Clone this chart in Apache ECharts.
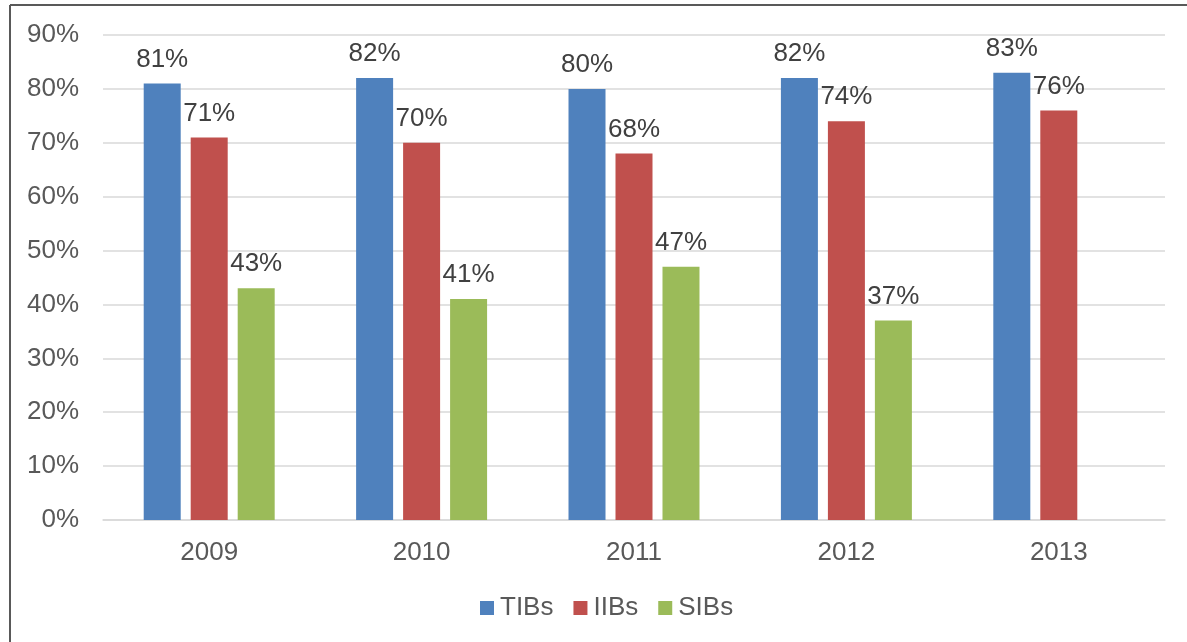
<!DOCTYPE html>
<html>
<head>
<meta charset="utf-8">
<script src="https://cdn.jsdelivr.net/npm/echarts@6/dist/echarts.min.js"></script>
<style>
html,body{margin:0;padding:0;background:#fff;}
#chart{width:1187px;height:642px;}
</style>
</head>
<body>
<div id="chart"></div>
<script>
var categories = ['2009', '2010', '2011', '2012', '2013'];
var seriesNames = ['TIBs', 'IIBs', 'SIBs'];
var tibs = [81, 82, 80, 82, 83];
var iibs = [71, 70, 68, 74, 76];
var sibs = [43, 41, 47, 37, null];
var colors = ['#4F81BD', '#C0504D', '#9BBB59'];

var font = 'Liberation Sans, Arial, sans-serif';
var chart = echarts.init(document.getElementById('chart'), null, {renderer: 'canvas'});

function mk(name, data, color) {
  return {
    name: name,
    type: 'bar',
    data: data,
    barWidth: 37,
    barGap: '27%',
    itemStyle: {color: color},
    label: {
      show: true,
      position: 'top',
      distance: 11,
      formatter: '{c}%',
      fontFamily: font,
      fontSize: 26,
      color: '#404040'
    }
  };
}

chart.setOption({
  animation: false,
  color: colors,
  grid: {left: 103, right: 22, top: 35, bottom: 122, containLabel: false},
  graphic: [
    {type: 'line', shape: {x1: 10, y1: 5, x2: 1187, y2: 5}, style: {stroke: '#595959', lineWidth: 2}},
    {type: 'line', shape: {x1: 10, y1: 5, x2: 10, y2: 642}, style: {stroke: '#595959', lineWidth: 2}}
  ],
  legend: {
    data: seriesNames,
    bottom: 16,
    left: 475,
    itemWidth: 14,
    itemHeight: 14,
    itemGap: 20,
    icon: 'rect',
    textStyle: {fontFamily: font, fontSize: 26, color: '#595959', padding: [0, 0, 0, 1]}
  },
  xAxis: {
    type: 'category',
    data: categories,
    axisLine: {show: true, lineStyle: {color: '#D9D9D9', width: 1.5}},
    axisTick: {show: false},
    axisLabel: {fontFamily: font, fontSize: 26, color: '#595959', margin: 20}
  },
  yAxis: {
    type: 'value',
    min: 0,
    max: 90,
    interval: 10,
    axisLine: {show: false},
    axisTick: {show: false},
    splitLine: {lineStyle: {color: '#D9D9D9', width: 1.5}},
    axisLabel: {formatter: '{value}%', fontFamily: font, fontSize: 26, color: '#595959', margin: 24}
  },
  series: [mk(seriesNames[0], tibs, colors[0]), mk(seriesNames[1], iibs, colors[1]), mk(seriesNames[2], sibs, colors[2])]
});
</script>
</body>
</html>
